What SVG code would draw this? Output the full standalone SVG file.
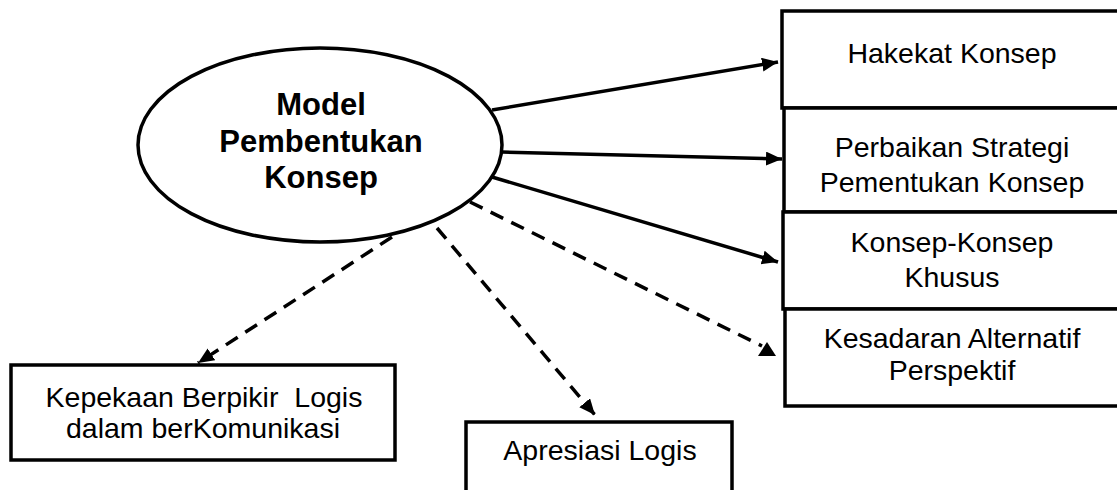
<svg xmlns="http://www.w3.org/2000/svg" width="1117" height="490" viewBox="0 0 1117 490">
  <style>
    .box { fill: #ffffff; stroke: #000000; stroke-width: 3.5; }
    .lbl { font-family: "Liberation Sans", Arial, sans-serif; font-size: 28.5px; fill: #000000; text-anchor: middle; }
    .title { font-family: "Liberation Sans", Arial, sans-serif; font-size: 31px; font-weight: bold; fill: #000000; text-anchor: middle; }
    .edge { fill: none; stroke: #000000; stroke-width: 3.5; }
    .dash { stroke-dasharray: 14 9; }
  </style>
  <defs>
    <marker id="arrow" markerUnits="userSpaceOnUse" markerWidth="18" markerHeight="16" refX="16" refY="7" orient="auto">
      <path d="M0,0 L16,7 L0,14 z" fill="#000000"/>
    </marker>
    <marker id="tri-up" markerUnits="userSpaceOnUse" markerWidth="20" markerHeight="16" refX="4" refY="4" orient="0">
      <path d="M9,0 L18,14 L0,14 z" fill="#000000"/>
    </marker>
  </defs>

  <rect width="1117" height="490" fill="#ffffff"/>

  <!-- connectors -->
  <g id="connectors">
    <line class="edge" x1="492" y1="110" x2="778" y2="62" marker-end="url(#arrow)"/>
    <line class="edge" x1="502" y1="152" x2="782" y2="159" marker-end="url(#arrow)"/>
    <line class="edge" x1="492" y1="177" x2="778" y2="262" marker-end="url(#arrow)"/>
    <line class="edge dash" x1="470" y1="202" x2="762" y2="346" marker-end="url(#tri-up)"/>
    <line class="edge dash" x1="437" y1="228" x2="595" y2="415" marker-end="url(#arrow)"/>
    <line class="edge dash" x1="392" y1="237" x2="198" y2="363" marker-end="url(#arrow)"/>
  </g>

  <!-- central concept -->
  <g id="model">
    <ellipse class="box" cx="320" cy="145" rx="182" ry="97"/>
    <text class="title" x="321" y="115">Model</text>
    <text class="title" x="321" y="152">Pembentukan</text>
    <text class="title" x="321" y="188">Konsep</text>
  </g>

  <!-- right column -->
  <g id="hakekat">
    <rect class="box" x="782" y="11" width="340" height="97"/>
    <text class="lbl" x="952" y="63">Hakekat Konsep</text>
  </g>
  <g id="perbaikan">
    <rect class="box" x="784" y="108" width="340" height="104"/>
    <text class="lbl" x="952" y="157">Perbaikan Strategi</text>
    <text class="lbl" x="952" y="192">Pementukan Konsep</text>
  </g>
  <g id="khusus">
    <rect class="box" x="783" y="212" width="340" height="97"/>
    <text class="lbl" x="952" y="252">Konsep-Konsep</text>
    <text class="lbl" x="952" y="287">Khusus</text>
  </g>
  <g id="kesadaran">
    <rect class="box" x="785" y="309" width="340" height="97"/>
    <text class="lbl" x="952" y="348">Kesadaran Alternatif</text>
    <text class="lbl" x="952" y="380">Perspektif</text>
  </g>

  <!-- bottom boxes -->
  <g id="kepekaan">
    <rect class="box" x="11" y="365" width="384" height="95"/>
    <text class="lbl" x="204" y="407" xml:space="preserve">Kepekaan Berpikir  Logis</text>
    <text class="lbl" x="203" y="438">dalam berKomunikasi</text>
  </g>
  <g id="apresiasi">
    <rect class="box" x="466" y="422" width="266" height="80"/>
    <text class="lbl" x="600" y="460">Apresiasi Logis</text>
  </g>
</svg>
